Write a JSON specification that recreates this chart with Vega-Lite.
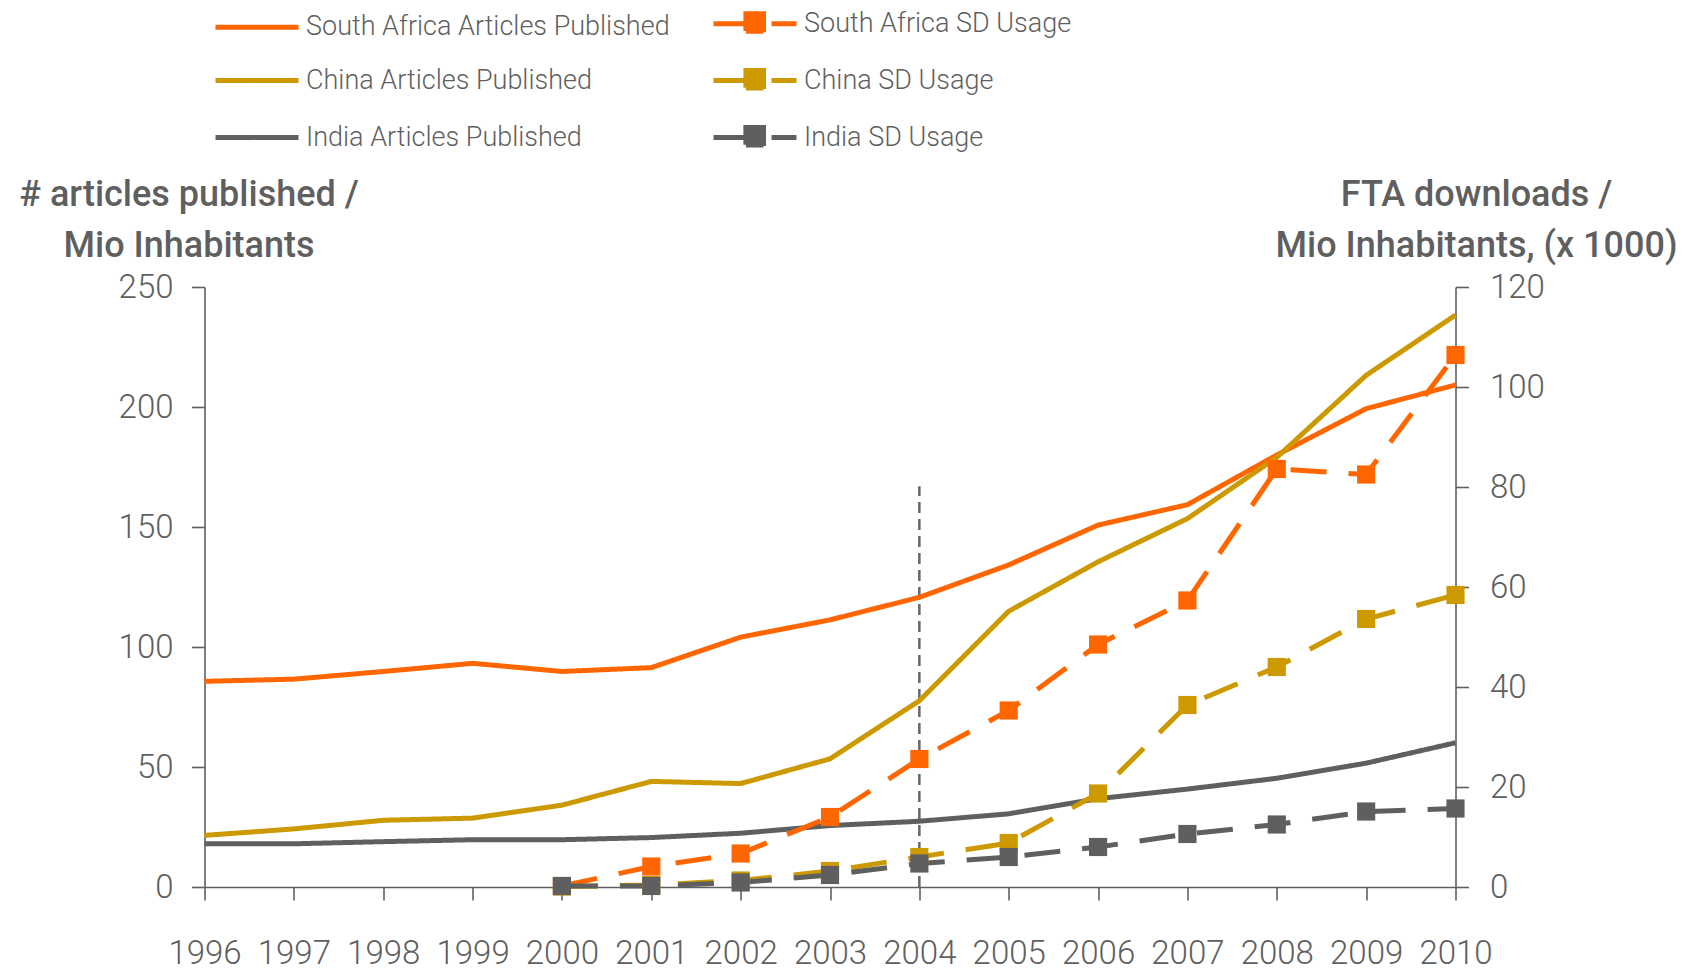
{
  "$schema": "https://vega.github.io/schema/vega-lite/v6.json",
  "width": 1251,
  "height": 600,
  "autosize": "none",
  "padding": {"left": 204.5, "top": 287, "right": 232.5, "bottom": 85},
  "background": "white",
  "config": {
    "font": "Roboto",
    "view": {"stroke": null},
    "axis": {
      "domainColor": "#5f5f5f", "domainWidth": 1.6,
      "tickColor": "#5f5f5f", "tickWidth": 1.6, "tickSize": 13,
      "labelColor": "#5f5f5f", "labelFont": "Roboto", "labelFontSize": 33, "labelFontWeight": 300,
      "titleColor": "#5f5f5f", "titleFont": "Roboto", "titleFontSize": 36, "titleFontWeight": 500,
      "grid": false
    },
    "legend": {
      "orient": "none", "legendX": 8.5, "legendY": -286,
      "columns": 2, "title": null,
      "symbolSize": 1600, "symbolStrokeWidth": 5,
      "symbolType": "M-1,0H3.15",
      "labelFont": "Roboto", "labelFontSize": 27, "labelFontWeight": 300, "labelColor": "#5f5f5f",
      "labelLimit": 0,
      "labelOffset": 48, "rowPadding": 14, "columnPadding": 33
    }
  },
  "datasets": {
    "articles": [
      {"year": 1996, "series": "South Africa Articles Published", "value": 85.7},
      {"year": 1997, "series": "South Africa Articles Published", "value": 86.6},
      {"year": 1998, "series": "South Africa Articles Published", "value": 89.8},
      {"year": 1999, "series": "South Africa Articles Published", "value": 93.2},
      {"year": 2000, "series": "South Africa Articles Published", "value": 89.8},
      {"year": 2001, "series": "South Africa Articles Published", "value": 91.4},
      {"year": 2002, "series": "South Africa Articles Published", "value": 104.1},
      {"year": 2003, "series": "South Africa Articles Published", "value": 111.3},
      {"year": 2004, "series": "South Africa Articles Published", "value": 120.7},
      {"year": 2005, "series": "South Africa Articles Published", "value": 134.2},
      {"year": 2006, "series": "South Africa Articles Published", "value": 150.8},
      {"year": 2007, "series": "South Africa Articles Published", "value": 159.3},
      {"year": 2008, "series": "South Africa Articles Published", "value": 180},
      {"year": 2009, "series": "South Africa Articles Published", "value": 199.3},
      {"year": 2010, "series": "South Africa Articles Published", "value": 209.2},
      {"year": 1996, "series": "China Articles Published", "value": 21.5},
      {"year": 1997, "series": "China Articles Published", "value": 24.2},
      {"year": 1998, "series": "China Articles Published", "value": 27.8},
      {"year": 1999, "series": "China Articles Published", "value": 28.7},
      {"year": 2000, "series": "China Articles Published", "value": 34.1},
      {"year": 2001, "series": "China Articles Published", "value": 44},
      {"year": 2002, "series": "China Articles Published", "value": 43.1},
      {"year": 2003, "series": "China Articles Published", "value": 53.4},
      {"year": 2004, "series": "China Articles Published", "value": 77.6},
      {"year": 2005, "series": "China Articles Published", "value": 114.9},
      {"year": 2006, "series": "China Articles Published", "value": 135.5},
      {"year": 2007, "series": "China Articles Published", "value": 153.5},
      {"year": 2008, "series": "China Articles Published", "value": 179},
      {"year": 2009, "series": "China Articles Published", "value": 213.2},
      {"year": 2010, "series": "China Articles Published", "value": 238.3},
      {"year": 1996, "series": "India Articles Published", "value": 18},
      {"year": 1997, "series": "India Articles Published", "value": 18},
      {"year": 1998, "series": "India Articles Published", "value": 18.9},
      {"year": 1999, "series": "India Articles Published", "value": 19.7},
      {"year": 2000, "series": "India Articles Published", "value": 19.7},
      {"year": 2001, "series": "India Articles Published", "value": 20.6},
      {"year": 2002, "series": "India Articles Published", "value": 22.4},
      {"year": 2003, "series": "India Articles Published", "value": 25.6},
      {"year": 2004, "series": "India Articles Published", "value": 27.4},
      {"year": 2005, "series": "India Articles Published", "value": 30.5},
      {"year": 2006, "series": "India Articles Published", "value": 36.8},
      {"year": 2007, "series": "India Articles Published", "value": 40.8},
      {"year": 2008, "series": "India Articles Published", "value": 45.3},
      {"year": 2009, "series": "India Articles Published", "value": 51.6},
      {"year": 2010, "series": "India Articles Published", "value": 60.1}
    ],
    "sd": [
      {"year": 2000, "series": "South Africa SD Usage", "value": 0.2},
      {"year": 2001, "series": "South Africa SD Usage", "value": 4.1},
      {"year": 2002, "series": "South Africa SD Usage", "value": 6.7},
      {"year": 2003, "series": "South Africa SD Usage", "value": 14},
      {"year": 2004, "series": "South Africa SD Usage", "value": 25.6},
      {"year": 2005, "series": "South Africa SD Usage", "value": 35.3},
      {"year": 2006, "series": "South Africa SD Usage", "value": 48.5},
      {"year": 2007, "series": "South Africa SD Usage", "value": 57.3},
      {"year": 2008, "series": "South Africa SD Usage", "value": 83.6},
      {"year": 2009, "series": "South Africa SD Usage", "value": 82.5},
      {"year": 2010, "series": "South Africa SD Usage", "value": 106.4},
      {"year": 2000, "series": "China SD Usage", "value": 0.1},
      {"year": 2001, "series": "China SD Usage", "value": 0.4},
      {"year": 2002, "series": "China SD Usage", "value": 1.3},
      {"year": 2003, "series": "China SD Usage", "value": 3.2},
      {"year": 2004, "series": "China SD Usage", "value": 6},
      {"year": 2005, "series": "China SD Usage", "value": 8.8},
      {"year": 2006, "series": "China SD Usage", "value": 18.7},
      {"year": 2007, "series": "China SD Usage", "value": 36.4},
      {"year": 2008, "series": "China SD Usage", "value": 44},
      {"year": 2009, "series": "China SD Usage", "value": 53.6},
      {"year": 2010, "series": "China SD Usage", "value": 58.4},
      {"year": 2000, "series": "India SD Usage", "value": 0.2},
      {"year": 2001, "series": "India SD Usage", "value": 0.2},
      {"year": 2002, "series": "India SD Usage", "value": 0.9},
      {"year": 2003, "series": "India SD Usage", "value": 2.4},
      {"year": 2004, "series": "India SD Usage", "value": 4.7},
      {"year": 2005, "series": "India SD Usage", "value": 6},
      {"year": 2006, "series": "India SD Usage", "value": 8},
      {"year": 2007, "series": "India SD Usage", "value": 10.6},
      {"year": 2008, "series": "India SD Usage", "value": 12.5},
      {"year": 2009, "series": "India SD Usage", "value": 15.1},
      {"year": 2010, "series": "India SD Usage", "value": 15.7}
    ],
    "marker": [
      {"year": 2004, "value": 0, "value2": 167}
    ]
  },
  "layer": [
    {
      "layer": [
        {
          "data": {"name": "marker"},
          "mark": {"type": "rule", "color": "#666666", "strokeWidth": 2.5, "strokeDash": [11, 6]},
          "encoding": {
            "x": {"field": "year", "type": "quantitative"},
            "y": {"field": "value", "type": "quantitative"},
            "y2": {"field": "value2"}
          }
        },
        {
          "data": {"name": "articles"},
          "mark": {"type": "line", "strokeWidth": 5},
          "encoding": {
            "x": {
              "field": "year", "type": "quantitative",
              "scale": {"domain": [1996, 2010], "nice": false, "zero": false},
              "axis": {
                "title": null, "format": "d",
                "values": [1996, 1997, 1998, 1999, 2000, 2001, 2002, 2003, 2004, 2005, 2006, 2007, 2008, 2009, 2010],
                "labelBaseline": "alphabetic", "labelPadding": 63, "labelFlush": false, "labelOverlap": false
              }
            },
            "y": {
              "field": "value", "type": "quantitative",
              "scale": {"domain": [0, 250], "nice": false},
              "axis": {
                "orient": "left", "values": [0, 50, 100, 150, 200, 250],
                "title": ["# articles published /", "Mio Inhabitants"],
                "titleAngle": 0, "titleX": -16, "titleY": -82, "titleAlign": "center",
                "titleBaseline": "alphabetic", "titleLineHeight": 51,
                "labelPadding": 18.5
              }
            },
            "color": {
              "field": "series", "type": "nominal",
              "scale": {
                "domain": ["South Africa Articles Published", "China Articles Published", "India Articles Published", "South Africa SD Usage", "China SD Usage", "India SD Usage"],
                "range": ["#ff6600", "#cc9900", "#5f5f5f", "#ff6600", "#cc9900", "#5f5f5f"]
              },
              "legend": {
                "encode": {
                  "symbols": {
                    "update": {
                      "shape": {"signal": "indexof(datum.value, 'SD') >= 0 ? 'M-1,0H3.15M0.62,-0.5H1.5V0.5H0.62Z' : 'M-1,0H3.15'"},
                      "fill": {"scale": "color", "field": "value"},
                      "strokeDash": {"signal": "indexof(datum.value, 'SD') >= 0 ? [32, 33, 18, 400] : [1, 0]"}
                    }
                  }
                }
              }
            },
            "strokeDash": {
              "field": "series", "type": "nominal",
              "scale": {
                "domain": ["South Africa Articles Published", "China Articles Published", "India Articles Published", "South Africa SD Usage", "China SD Usage", "India SD Usage"],
                "range": [[1, 0], [1, 0], [1, 0], [36, 22], [36, 22], [36, 22]]
              }
            }
          }
        }
      ]
    },
    {
      "data": {"name": "sd"},
      "encoding": {
        "x": {"field": "year", "type": "quantitative"},
        "y": {
          "field": "value", "type": "quantitative",
          "scale": {"domain": [0, 120], "nice": false},
          "axis": {
            "orient": "right", "values": [0, 20, 40, 60, 80, 100, 120],
            "title": ["FTA downloads /", "Mio Inhabitants, (x 1000)"],
            "titleAngle": 0, "titleX": 20.5, "titleY": -82, "titleAlign": "center",
            "titleBaseline": "alphabetic", "titleLineHeight": 51,
            "labelPadding": 21
          }
        },
        "color": {"field": "series", "type": "nominal"}
      },
      "layer": [
        {
          "mark": {"type": "line", "strokeWidth": 5},
          "encoding": {
            "strokeDash": {"field": "series", "type": "nominal"}
          }
        },
        {
          "mark": {"type": "point", "shape": "square", "filled": true, "size": 330, "opacity": 1}
        }
      ]
    }
  ],
  "resolve": {"scale": {"y": "independent"}}
}
